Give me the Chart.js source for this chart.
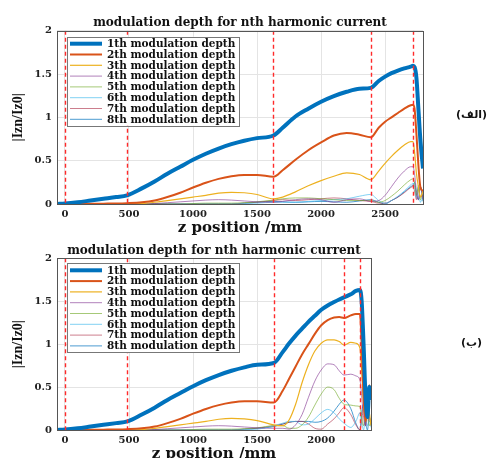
<!DOCTYPE html>
<html>
<head>
<meta charset="utf-8">
<script src="https://cdn.jsdelivr.net/npm/chart.js@4.4.1/dist/chart.umd.min.js"></script>
<style>
  html, body { margin: 0; padding: 0; background: #fff; width: 489px; height: 458px; overflow: hidden; }
  .wrap { position: absolute; left: 0; }
  .tag { position: absolute; font-family: "DejaVu Sans", sans-serif; font-weight: bold; font-size: 11px; color: #111; direction: rtl; white-space: nowrap; }
</style>
</head>
<body>
<div class="wrap" style="top:0px;width:489px;height:240px"><canvas id="cTop" width="489" height="240"></canvas></div>
<div class="wrap" style="top:240px;width:489px;height:226px"><canvas id="cBot" width="489" height="226"></canvas></div>
<div class="tag" style="left:456px;top:108px">(الف)</div>
<div class="tag" style="left:461px;top:336px">(ب)</div>
<script>
// ---------- data ----------
const seriesLabels = ['1th modulation depth','2th modulation depth','3th modulation depth','4th modulation depth',
                      '5th modulation depth','6th modulation depth','7th modulation depth','8th modulation depth'];
const chartTitle = 'modulation depth for nth harmonic current';
const xTitle = 'z position /mm';
const yTitle = '|Izn/Iz0|';

// top panel (الف)
const zTop = [-62, 0, 100, 200, 300, 400, 485, 600, 700, 800, 900, 1000, 1100, 1200, 1300, 1400, 1500, 1628,
  1700, 1800, 1900, 2000, 2100, 2200, 2300, 2388, 2450, 2500, 2550, 2600, 2650, 2700, 2718, 2730, 2745, 2760, 2775, 2796];
const top1 = [0, 0.005, 0.02, 0.04, 0.06, 0.08, 0.10, 0.18, 0.26, 0.35, 0.43, 0.51, 0.58, 0.64, 0.69, 0.73, 0.76, 0.79,
  0.88, 1.01, 1.10, 1.18, 1.245, 1.295, 1.33, 1.34, 1.42, 1.47, 1.51, 1.54, 1.565, 1.585, 1.595, 1.58, 1.45, 1.1, 0.75, 0.41];
const top2 = [0, 0, 0, 0.002, 0.004, 0.006, 0.01, 0.02, 0.04, 0.08, 0.13, 0.19, 0.245, 0.29, 0.32, 0.335, 0.335, 0.315,
  0.39, 0.51, 0.62, 0.71, 0.79, 0.82, 0.80, 0.77, 0.88, 0.95, 1.0, 1.05, 1.1, 1.14, 1.145, 1.1, 0.8, 0.45, 0.2, 0.15];
const top3 = [0, 0, 0, 0, 0, 0, 0.002, 0.005, 0.02, 0.04, 0.06, 0.08, 0.1, 0.125, 0.135, 0.13, 0.11, 0.06,
  0.08, 0.14, 0.21, 0.27, 0.32, 0.36, 0.34, 0.28, 0.38, 0.47, 0.55, 0.62, 0.68, 0.72, 0.72, 0.6, 0.35, 0.2, 0.08, 0.15];
const top4 = [0, 0, 0, 0, 0, 0, 0, 0, 0.005, 0.015, 0.025, 0.035, 0.045, 0.05, 0.045, 0.035, 0.025, 0.02,
  0.03, 0.05, 0.06, 0.05, 0.02, 0.05, 0.06, 0.03, 0.04, 0.1, 0.2, 0.3, 0.38, 0.43, 0.43, 0.35, 0.15, 0.05, 0.2, 0.05];
const top5 = [0, 0, 0, 0, 0, 0, 0, 0, 0, 0, 0, 0.005, 0.01, 0.01, 0.01, 0.015, 0.025, 0.045,
  0.06, 0.07, 0.07, 0.06, 0.05, 0.04, 0.04, 0.04, 0.02, 0.04, 0.09, 0.15, 0.22, 0.28, 0.29, 0.25, 0.1, 0.2, 0.05, 0.12];
const top6 = [0, 0, 0, 0, 0, 0, 0, 0, 0, 0, 0, 0, 0, 0, 0, 0.005, 0.01, 0.02,
  0.02, 0.02, 0.03, 0.04, 0.05, 0.06, 0.09, 0.11, 0.04, 0.01, 0.04, 0.09, 0.15, 0.22, 0.24, 0.2, 0.08, 0.22, 0.02, 0.08];
const top7 = [0, 0, 0, 0, 0, 0, 0, 0, 0, 0, 0, 0, 0, 0, 0, 0.01, 0.02, 0.04,
  0.05, 0.04, 0.05, 0.06, 0.07, 0.06, 0.04, 0.03, 0.01, 0.01, 0.04, 0.08, 0.13, 0.19, 0.2, 0.15, 0.05, 0.18, 0.08, 0.1];
const top8 = [0, 0, 0, 0, 0, 0, 0, 0, 0, 0, 0, 0, 0, 0, 0, 0.01, 0.02, 0.03,
  0.025, 0.02, 0.025, 0.03, 0.025, 0.02, 0.035, 0.05, 0.02, 0.0, 0.04, 0.08, 0.14, 0.2, 0.22, 0.25, 0.1, 0.05, 0.2, 0.03];
const markersTop = [0, 485, 1628, 2388, 2718];

// bottom panel (ب)
const zBot = [-62, 0, 100, 200, 300, 400, 488, 600, 700, 800, 900, 1000, 1100, 1200, 1300, 1400, 1500, 1630,
  1700, 1750, 1800, 1850, 1900, 1950, 2000, 2050, 2100, 2140, 2177, 2230, 2270, 2302, 2315, 2330, 2345, 2360, 2375, 2388];
const bot1 = [0, 0.005, 0.02, 0.04, 0.06, 0.08, 0.10, 0.18, 0.26, 0.35, 0.43, 0.51, 0.58, 0.64, 0.69, 0.73, 0.76, 0.78,
  0.91, 1.01, 1.10, 1.18, 1.26, 1.33, 1.40, 1.45, 1.49, 1.52, 1.545, 1.58, 1.62, 1.63, 1.5, 1.0, 0.4, 0.15, 0.5, 0.35];
const bot2 = [0, 0, 0, 0.002, 0.004, 0.006, 0.01, 0.02, 0.04, 0.08, 0.13, 0.19, 0.245, 0.29, 0.32, 0.335, 0.335, 0.32,
  0.46, 0.6, 0.74, 0.88, 1.0, 1.12, 1.22, 1.28, 1.31, 1.315, 1.305, 1.335, 1.35, 1.35, 1.0, 0.4, 0.1, 0.3, 0.52, 0.45];
const bot3 = [0, 0, 0, 0, 0, 0, 0.002, 0.005, 0.02, 0.04, 0.06, 0.08, 0.1, 0.125, 0.135, 0.13, 0.11, 0.06,
  0.05, 0.12, 0.3, 0.55, 0.76, 0.92, 1.01, 1.05, 1.05, 1.03, 0.99, 1.02, 1.01, 0.95, 0.7, 0.3, 0.1, 0.3, 0.2, 0.05];
const bot4 = [0, 0, 0, 0, 0, 0, 0, 0, 0.005, 0.015, 0.025, 0.035, 0.045, 0.05, 0.045, 0.035, 0.025, 0.02,
  0.02, 0.01, 0.06, 0.18, 0.38, 0.57, 0.7, 0.77, 0.76, 0.69, 0.64, 0.65, 0.63, 0.58, 0.4, 0.15, 0.05, 0.25, 0.15, 0.1];
const bot5 = [0, 0, 0, 0, 0, 0, 0, 0, 0, 0, 0, 0.005, 0.01, 0.01, 0.01, 0.015, 0.025, 0.05,
  0.05, 0.02, 0.02, 0.06, 0.15, 0.29, 0.42, 0.5, 0.47, 0.37, 0.3, 0.29, 0.28, 0.27, 0.15, 0.05, 0.2, 0.15, 0.05, 0.1];
const bot6 = [0, 0, 0, 0, 0, 0, 0, 0, 0, 0, 0, 0, 0, 0, 0, 0.005, 0.01, 0.05,
  0.08, 0.1, 0.1, 0.06, 0.07, 0.13, 0.2, 0.24, 0.2, 0.13, 0.08, 0.03, 0.1, 0.2, 0.1, 0.0, 0.15, 0.05, 0.1, 0.03];
const bot7 = [0, 0, 0, 0, 0, 0, 0, 0, 0, 0, 0, 0, 0, 0, 0, 0.01, 0.02, 0.05,
  0.07, 0.09, 0.1, 0.1, 0.07, 0.02, 0.01, 0.07, 0.13, 0.2, 0.26, 0.18, 0.06, 0.0, 0.1, 0.25, 0.05, 0.2, 0.1, 0.1];
const bot8 = [0, 0, 0, 0, 0, 0, 0, 0, 0, 0, 0, 0, 0, 0, 0, 0.01, 0.02, 0.04,
  0.07, 0.09, 0.1, 0.1, 0.1, 0.09, 0.1, 0.14, 0.22, 0.3, 0.35, 0.25, 0.08, 0.0, 0.2, 0.3, 0.1, 0.0, 0.15, 0.05];
const markersBot = [0, 488, 1630, 2177, 2302];

const xTicksTop = [0, 500, 1000, 1500, 2000, 2500];
const xTicksBot = [0, 500, 1000, 1500, 2000];
const yTicks = [0, 0.5, 1, 1.5, 2];

// ---------- styles ----------
const colors = ['#0072BD', '#D95319', '#EDB120', 'rgba(126,47,142,0.6)', 'rgba(119,172,48,0.65)',
                'rgba(77,190,238,0.7)', 'rgba(162,20,47,0.55)', 'rgba(0,114,189,0.7)'];
const widths = [4, 2, 1.2, 1, 1, 1, 1, 1];
const tickFont = { family: 'DejaVu Serif', weight: 'bold', size: 10 };

const boxAndMarkers = {
  id: 'boxAndMarkers',
  afterDatasetsDraw(chart, args, opts) {
    const { ctx, chartArea: a, scales } = chart;
    ctx.save();
    ctx.beginPath();
    ctx.rect(a.left, a.top, a.right - a.left, a.bottom - a.top);
    ctx.clip();
    ctx.strokeStyle = '#ff2a2a';
    ctx.lineWidth = 1.4;
    ctx.setLineDash([4, 3]);
    opts.markers.forEach(m => {
      const x = Math.round(scales.x.getPixelForValue(m)) + 0.5;
      ctx.beginPath();
      ctx.moveTo(x, a.top);
      ctx.lineTo(x, a.bottom);
      ctx.stroke();
    });
    ctx.restore();
    ctx.save();
    ctx.setLineDash([]);
    ctx.strokeStyle = '#555';
    ctx.lineWidth = 1;
    ctx.strokeRect(Math.round(a.left) + 0.5, Math.round(a.top) + 0.5, Math.round(a.right - a.left), Math.round(a.bottom - a.top));
    // legend
    const lx = a.left + 10, ly = a.top + opts.legendDy, lw = 172, lh = 89;
    ctx.fillStyle = '#fff';
    ctx.fillRect(lx, ly, lw, lh);
    ctx.strokeStyle = '#777';
    ctx.strokeRect(Math.round(lx) + 0.5, Math.round(ly) + 0.5, lw, lh);
    ctx.font = 'bold 10.5px "DejaVu Serif"';
    ctx.textBaseline = 'middle';
    ctx.textAlign = 'left';
    chart.data.datasets.forEach((ds, i) => {
      const yy = ly + 7 + i * 10.8;
      ctx.strokeStyle = ds.borderColor;
      ctx.lineWidth = ds.borderWidth;
      ctx.beginPath();
      ctx.moveTo(lx + 3, yy);
      ctx.lineTo(lx + 35, yy);
      ctx.stroke();
      ctx.fillStyle = '#111';
      ctx.fillText(ds.label, lx + 40, yy + 0.5);
    });
    ctx.restore();
  }
};

function makeChart(id, z, series, markers, xTicks, xMax, padRight, titlePadTop, legendDy) {
  const datasets = series.map((vals, i) => ({
    label: seriesLabels[i],
    data: z.map((x, j) => ({ x: x, y: vals[j] })),
    borderColor: colors[i],
    borderWidth: widths[i],
    pointRadius: 0,
    fill: false,
    cubicInterpolationMode: 'monotone',
    order: i
  }));
  return new Chart(document.getElementById(id), {
    type: 'line',
    data: { datasets: datasets },
    options: {
      responsive: false,
      animation: false,
      devicePixelRatio: 1,
      layout: { padding: { left: 0, right: padRight, top: 0, bottom: 0 } },
      plugins: {
        legend: { display: false },
        tooltip: { enabled: false },
        title: {
          display: true, text: chartTitle, color: '#111', fullSize: false,
          font: { family: 'DejaVu Serif', weight: 'bold', size: 12 },
          padding: { top: titlePadTop, bottom: 0.5 }
        },
        boxAndMarkers: { markers: markers, legendDy: legendDy }
      },
      scales: {
        x: {
          type: 'linear', min: -62, max: xMax,
          afterBuildTicks(s) { s.ticks = xTicks.map(v => ({ value: v })); },
          ticks: { font: tickFont, color: '#222', padding: 4, maxRotation: 0, autoSkip: false,
                   callback: v => String(v) },
          grid: { color: '#e4e4e4', drawTicks: false },
          border: { display: false },
          title: { display: true, text: xTitle, color: '#111',
                   font: { family: 'DejaVu Serif', weight: 'bold', size: 15 }, padding: { top: 0, bottom: 3 } },
          afterFit(s) { s.height = 36; }
        },
        y: {
          type: 'linear', min: 0, max: 2,
          afterBuildTicks(s) { s.ticks = yTicks.map(v => ({ value: v })); },
          ticks: { font: tickFont, color: '#222', padding: 5, autoSkip: false, callback: v => String(v) },
          grid: { color: '#e4e4e4', drawTicks: false },
          border: { display: false },
          title: { display: true, text: yTitle, color: '#111',
                   font: { family: 'Liberation Serif', weight: 'bold', size: 14 }, padding: { top: 10, bottom: 0 } },
          afterFit(s) { s.width = 57; }
        }
      }
    },
    plugins: [boxAndMarkers]
  });
}

makeChart('cTop', zTop, [top1, top2, top3, top4, top5, top6, top7, top8], markersTop, xTicksTop, 2796, 66, 15.8, 6);
makeChart('cBot', zBot, [bot1, bot2, bot3, bot4, bot5, bot6, bot7, bot8], markersBot, xTicksBot, 2388, 118, 3.4, 5);
</script>
</body>
</html>
